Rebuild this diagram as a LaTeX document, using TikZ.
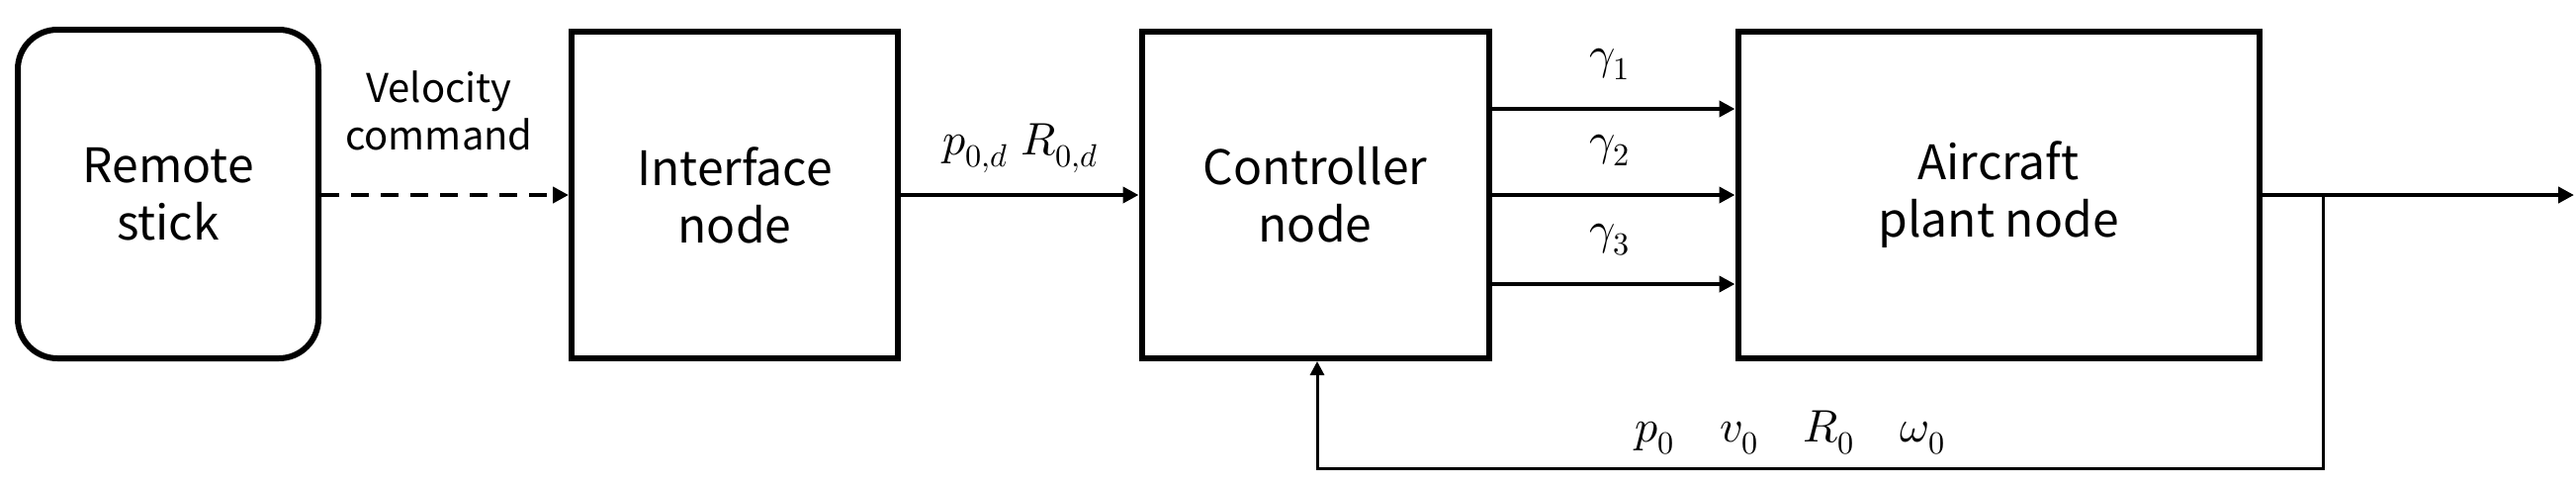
\documentclass[tikz,border=0pt]{standalone}
\usepackage{fontspec}
\usepackage{unicode-math}
\setmainfont{Noto Sans CJK SC}
\setmathfont{Latin Modern Math}
\usetikzlibrary{arrows.meta}
\begin{document}
\begin{tikzpicture}[x=1pt,y=-1pt,
  blk/.style={draw,line width=6pt,minimum width=#1,inner sep=0pt,font=\fontsize{48}{58}\selectfont,align=center},
  con/.style={line width=4pt,-{Triangle[length=16pt,width=16pt]}},
  lbl/.style={font=\fontsize{40}{48}\selectfont,inner sep=0pt,align=center},
  mlbl/.style={font=\fontsize{46}{52}\selectfont,inner sep=0pt,align=center}]
\useasboundingbox (0,0) rectangle (2605,491);
\node[blk=304pt,minimum height=332pt,rounded corners=40pt] (rs) at (170,196) {Remote\\stick};
\node[blk=330pt,minimum height=330pt] (in) at (743,197) {Interface\\node};
\node[blk=351pt,minimum height=330pt] (ct) at (1330,197) {Controller\\node};
\node[blk=527pt,minimum height=330pt] (pl) at (2021,197) {Aircraft\\plant node};
\coordinate (out) at (2603,197);
\coordinate (br) at (2349,197);
\draw[con,dashed,dash pattern=on 18pt off 12pt] (rs.east|-0,197) -- (in.west|-0,197);
\node[lbl] (vc) at (444,112) {Velocity\\command};
\draw[con] (in.east|-0,197) -- (ct.west|-0,197);
\node[mlbl] (pd) at (1032,150) {$p_{0,d}\;R_{0,d}$};
\foreach \y/\i in {110/1,197/2,287/3}{
  \draw[con] (ct.east|-0,\y) -- (pl.west|-0,\y);
  \node[mlbl] (g\i) at (1628,\y-45) {$\gamma_{\i}$};
}
\draw[con] (pl.east) -- (out);
\draw[line width=3pt,-{Triangle[length=14pt,width=14pt]}] (br) -- (2349,473) -- (1332,473) -- (ct.south-|1332,0);
\node[mlbl] (fb) at (1810,437) {$p_0\quad v_0\quad R_0\quad \omega_0$};
\end{tikzpicture}
\end{document}
